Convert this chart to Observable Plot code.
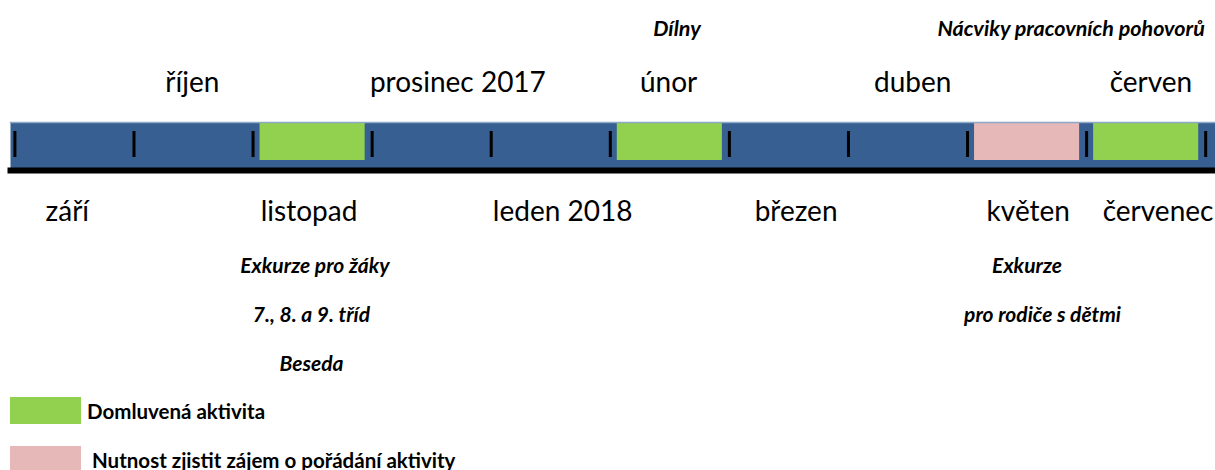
<!DOCTYPE html>
<html><head><meta charset="utf-8">
<script src="https://cdn.jsdelivr.net/npm/d3@7"></script>
<script src="https://cdn.jsdelivr.net/npm/@observablehq/plot@0.6"></script>
<style>
body{margin:0;background:#fff;font-family:Lato,"Open Sans",sans-serif;}
#legend{padding-left:10px;padding-top:12px;}
.item{display:flex;align-items:center;height:27px;margin-bottom:22px;font-weight:bold;font-size:20.5px;line-height:24px;color:#000;}
.sw{width:71px;height:27px;margin-right:6px;flex:none;}
.item:nth-child(2) .sw{margin-right:11px;}
.item:nth-child(2) span{padding-top:1px;}
</style></head><body><div id="chart"></div><div id="legend"></div>
<script>
// months of the school year (index = position on the timeline)
const months = ["září","říjen","listopad","prosinec 2017","leden 2018","únor","březen","duben","květen","červen","červenec"];
const labelSide = ["below","above","below","above","below","above","below","above","below","above","below"];
// label centres, in month units
const labelX = [0.44,1.49,2.47,3.72,4.60,5.49,6.56,7.54,8.51,9.54,9.60];
// month boundaries (ticks)
const boundaries = [0,1,2,3,4,5,6,7,8,9,10];
// activities
const activityMonth = [2,5,8,9];
const activityStatus = ["Domluvená aktivita","Domluvená aktivita","Nutnost zjistit zájem o pořádání aktivity","Domluvená aktivita"];
const statuses = ["Domluvená aktivita","Nutnost zjistit zájem o pořádání aktivity"];
const statusColors = ["#92d050","#e6b8b7"];
// notes above the timeline
const notesAboveText = ["Dílny","Nácviky pracovních pohovorů"];
const notesAboveX = [5.56,8.87];
// notes below the timeline (line number within the block)
const notesBelowText = ["Exkurze pro žáky","7., 8. a 9. tříd","Beseda","Exkurze","pro rodiče s dětmi"];
const notesBelowX = [2.52,2.49,2.49,8.50,8.63];
const notesBelowLine = [0,1,2,0,1];

const monthData = months.map((m,i)=>({m, side:labelSide[i], x:labelX[i]}));
const acts = activityMonth.map((m,i)=>({x1:m, x2:m+1, status:activityStatus[i]}));
const above = notesAboveText.map((t,i)=>({t, x:notesAboveX[i]}));
const below = notesBelowText.map((t,i)=>({t, x:notesBelowX[i], line:notesBelowLine[i]}));

const blue = "#375f91";
const plot = Plot.plot({
  width:1215, height:385,
  marginTop:122, marginBottom:215, marginLeft:10, marginRight:0,
  style:{fontFamily:"Lato, 'Open Sans', sans-serif", background:"#fff"},
  x:{domain:[0,10], range:[14.4,1205.2], axis:null},
  color:{domain:statuses, range:statusColors},
  marks:[
    Plot.frame({fill:blue, stroke:null}),
    Plot.rect(acts, {x1:"x1", x2:"x2", fill:"status", insetLeft:7, insetRight:7, insetBottom:10}),
    Plot.frame({anchor:"top", stroke:"#8ea8c8", strokeWidth:1.5}),
    Plot.tickX(boundaries, {x:d=>d, stroke:"#000", strokeWidth:3, insetTop:9, insetBottom:13}),
    Plot.frame({anchor:"bottom", stroke:"#000", strokeWidth:6}),
    Plot.text(monthData.filter(d=>d.side==="above"), {x:"x", text:"m", frameAnchor:"top", lineAnchor:"bottom", dy:-31, fontSize:28, fill:"#000"}),
    Plot.text(monthData.filter(d=>d.side==="below"), {x:"x", text:"m", frameAnchor:"bottom", lineAnchor:"bottom", dy:50, fontSize:28, fill:"#000"}),
    Plot.text(above, {x:"x", text:"t", frameAnchor:"top", lineAnchor:"bottom", dy:-87, fontSize:21.5, fontWeight:"bold", fontStyle:"italic", fill:"#000"}),
    ...[0,1,2].map(l => Plot.text(below.filter(d=>d.line===l), {x:"x", text:"t", frameAnchor:"bottom", lineAnchor:"bottom", dy:102+49*l, fontSize:21, fontWeight:"bold", fontStyle:"italic", fill:"#000"}))
  ]
});
document.getElementById("chart").appendChild(plot);

const legend = document.getElementById("legend");
statuses.forEach((s,i)=>{
  const it = document.createElement("div"); it.className="item";
  const sw = document.createElement("div"); sw.className="sw"; sw.style.background=statusColors[i];
  const tx = document.createElement("span"); tx.textContent=s;
  it.appendChild(sw); it.appendChild(tx); legend.appendChild(it);
});
</script></body></html>
